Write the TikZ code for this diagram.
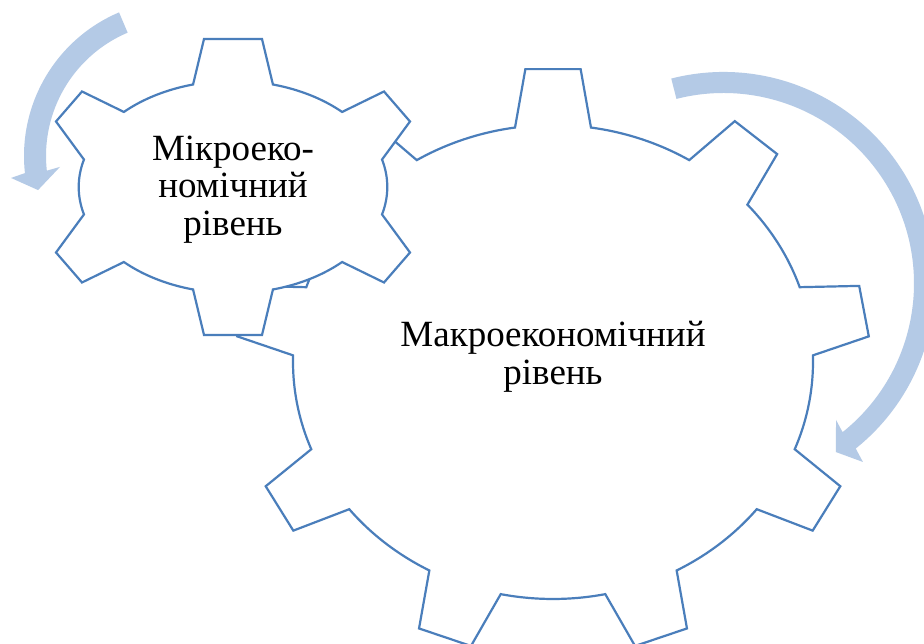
\documentclass[tikz,border=0pt]{standalone}
\usepackage{fontspec}
\setmainfont{Liberation Serif}
\definecolor{gearblue}{RGB}{74,126,187}
\definecolor{arrowblue}{RGB}{180,202,230}
\begin{document}
\begin{tikzpicture}[x=1pt,y=1pt,
  gearline/.style={draw=gearblue, line width=2.2pt, fill=white, line join=miter},
  turnarrow/.style={fill=arrowblue, draw=none},
  leveltext/.style={font=\fontsize{37}{37.8}\selectfont, align=center, text=black, inner sep=0pt}]
\useasboundingbox (0,0) rectangle (924,644);
\clip (0,0) rectangle (924,644);
\fill[white] (0,0) rectangle (924,644);

% centres of the gears and of the two rotation arrows
\coordinate (B) at (553,282);
\coordinate (S) at (233,457);
\coordinate (RA) at (723.5,360.5);
\coordinate (LA) at (180,488);

% clockwise arrow round the large gear
\fill[turnarrow] ([shift={(RA)}]104.3:211.5)
  arc[start angle=104.3, end angle=-51.3, radius=211.5]
  -- ([shift={(RA)}]-52:226.5) -- ([shift={(RA)}]-56.3:202.6)
  -- ([shift={(RA)}]-50.5:176.9) -- ([shift={(RA)}]-51.3:190.5)
  arc[start angle=-51.3, end angle=104.3, radius=190.5] -- cycle;

% counter-clockwise arrow round the small gear
\fill[turnarrow] ([shift={(LA)}]113:156)
  arc[start angle=113, end angle=186.3, radius=156]
  -- ([shift={(LA)}]187.4:170.4) -- ([shift={(LA)}]193.5:146)
  -- ([shift={(LA)}]185.2:120.5) -- ([shift={(LA)}]186.3:134)
  arc[start angle=186.3, end angle=113, radius=134] -- cycle;

% large gear: nine teeth on an elliptical rim
\draw[gearline] ([shift={(B)}]98.4:260 and 237)
  foreach \k [evaluate=\k as \t using 90-40*\k] in {0,...,8} {
    -- ([shift={(B)}]\t+5:317 and 294)
    -- ([shift={(B)}]\t-5:317 and 294)
    -- ([shift={(B)}]\t-8.4:260 and 237)
    arc[start angle=\t-8.4, end angle=\t-31.6, x radius=260, y radius=237]
  } -- cycle;

% small gear: six teeth
\draw[gearline] ([shift={(S)}]105:154.3 and 106.1)
  -- ([shift={(S)}]-29,148) -- ([shift={(S)}]29,148)
  -- ([shift={(S)}]75:154.3 and 106.1)
  arc[start angle=75, end angle=45, x radius=154.3, y radius=106.1]
  -- ([shift={(S)}]151,95.5) -- ([shift={(S)}]177,65.5)
  -- ([shift={(S)}]15:154.3 and 106.1)
  arc[start angle=15, end angle=-15, x radius=154.3, y radius=106.1]
  -- ([shift={(S)}]177,-65.5) -- ([shift={(S)}]151,-95.5)
  -- ([shift={(S)}]-45:154.3 and 106.1)
  arc[start angle=-45, end angle=-75, x radius=154.3, y radius=106.1]
  -- ([shift={(S)}]29,-148) -- ([shift={(S)}]-29,-148)
  -- ([shift={(S)}]-105:154.3 and 106.1)
  arc[start angle=-105, end angle=-135, x radius=154.3, y radius=106.1]
  -- ([shift={(S)}]-151,-95.5) -- ([shift={(S)}]-177,-65.5)
  -- ([shift={(S)}]-165:154.3 and 106.1)
  arc[start angle=-165, end angle=-195, x radius=154.3, y radius=106.1]
  -- ([shift={(S)}]-177,65.5) -- ([shift={(S)}]-151,95.5)
  -- ([shift={(S)}]135:154.3 and 106.1)
  arc[start angle=135, end angle=105, x radius=154.3, y radius=106.1]
  -- cycle;

\node[leveltext] (macro) at (553,287) {Макроекономічний\\рівень};
\node[leveltext] (micro) at (233,454.5) {Мікроеко-\\номічний\\рівень};
\end{tikzpicture}
\end{document}
